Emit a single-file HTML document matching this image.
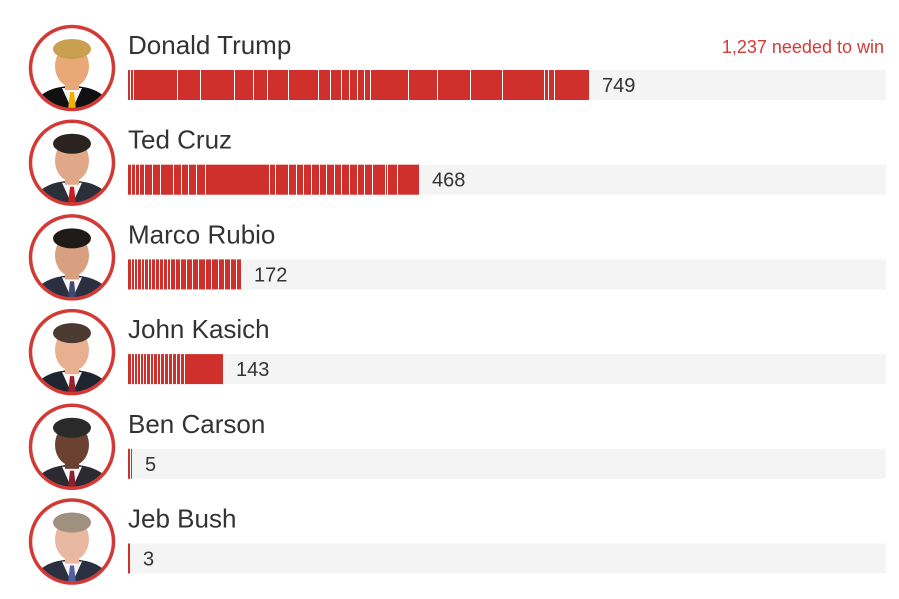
<!DOCTYPE html>
<html><head><meta charset="utf-8"><style>
body{margin:0;background:#fff;}
svg{display:block;font-family:"Liberation Sans",Arial,sans-serif;}
</style></head><body>
<svg id="s" width="899" height="599" viewBox="0 0 899 599">
<text x="884" y="53" font-size="18" fill="#d33a35" text-anchor="end">1,237 needed to win</text>
</svg>
<script>
var s=document.getElementById('s'),NS='http://www.w3.org/2000/svg';
function el(t,a,txt){var e=document.createElementNS(NS,t);for(var k in a)e.setAttribute(k,a[k]);if(txt)e.textContent=txt;s.appendChild(e);return e;}
var rows=[
 {n:'Donald Trump',v:749,end:589,gaps:[130,133,177,200,234,253,267,288,318,330,341,349,357,364,370,408,437,470,502,544,548,554],skin:'#e8a878',hair:'#c9a050',suit:'#111',tie:'#f0b400'},
 {n:'Ted Cruz',v:468,end:419,gaps:[131,135,139,144,152,160,173,181,188,196,205,269,275,288,296,303,311,319,326,334,341,349,357,364,372,385,387,397],skin:'#e0a888',hair:'#2a2320',suit:'#2a2f3a',tie:'#c02020'},
 {n:'Marco Rubio',v:172,end:241,gaps:[131,134,137,141,144,148,151,155,159,163,167,170,175,180,186,192,198,205,211,218,224,230,236],skin:'#d8a080',hair:'#1e1a18',suit:'#2a3040',tie:'#404a70'},
 {n:'John Kasich',v:143,end:223,gaps:[131,134,137,140,143,146,150,153,157,160,164,168,172,176,180,184],skin:'#e8b090',hair:'#4a3a30',suit:'#1e2430',tie:'#9a2030'},
 {n:'Ben Carson',v:5,end:132,gaps:[130],skin:'#6a4030',hair:'#2a2a2a',suit:'#2a2a30',tie:'#8a2030'},
 {n:'Jeb Bush',v:3,end:130,gaps:[],skin:'#e8b8a0',hair:'#a09080',suit:'#2a3040',tie:'#5060a0'}
];
rows.forEach(function(r,i){
 var cy=68+i*94.7, by=70+i*94.7;
 var cid='c'+i;
 var d=el('defs',{});var cp=document.createElementNS(NS,'clipPath');cp.setAttribute('id',cid);d.appendChild(cp);
 var cc=document.createElementNS(NS,'circle');cc.setAttribute('cx',72);cc.setAttribute('cy',cy);cc.setAttribute('r',40);cp.appendChild(cc);
 el('circle',{cx:72,cy:cy,r:40,fill:'#fff'});
 var g=el('g',{'clip-path':'url(#'+cid+')'});
 function a(t,at){var e=document.createElementNS(NS,t);for(var k in at)e.setAttribute(k,at[k]);g.appendChild(e);}
 a('ellipse',{cx:72,cy:cy+40,rx:38,ry:22,fill:r.suit});
 a('polygon',{points:(62)+','+(cy+20)+' '+(82)+','+(cy+20)+' '+(72)+','+(cy+42),fill:'#f4f4f4'});
 a('polygon',{points:(70)+','+(cy+24)+' '+(74)+','+(cy+24)+' '+(76)+','+(cy+42)+' '+(68)+','+(cy+42),fill:r.tie});
 a('rect',{x:65,y:cy+8,width:14,height:14,fill:r.skin});
 a('ellipse',{cx:72,cy:cy-2,rx:17,ry:21,fill:r.skin});
 a('ellipse',{cx:72,cy:cy-19,rx:19,ry:10,fill:r.hair});
 el('circle',{cx:72,cy:cy,r:41.5,fill:'none',stroke:'#d33a35','stroke-width':3.5});
 el('text',{x:128,y:by-16,'font-size':26,fill:'#333'},r.n);
 el('rect',{x:128,y:by,width:758,height:30,fill:'#f4f4f4'});
 el('rect',{x:128,y:by,width:r.end-128,height:30,fill:'#d0302c'});
 r.gaps.forEach(function(x){el('rect',{x:x,y:by,width:1,height:30,fill:'#fff'});});
 el('text',{x:r.end+13,y:by+22,'font-size':20,fill:'#333'},String(r.v));
});
</script>
</body></html>
